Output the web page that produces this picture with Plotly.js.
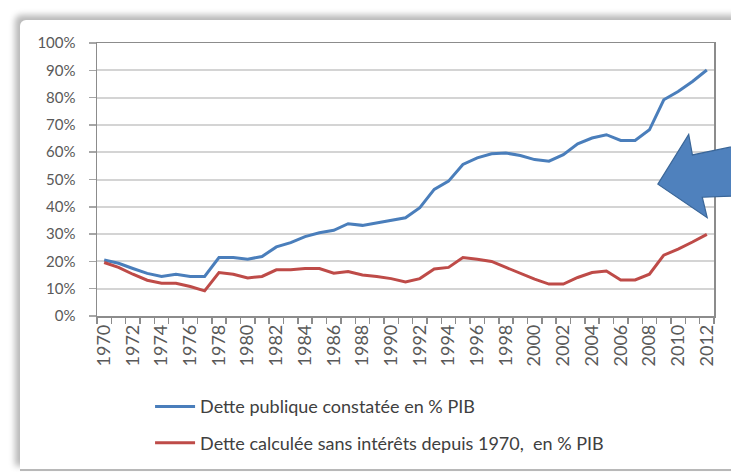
<!DOCTYPE html>
<html>
<head>
<meta charset="utf-8">
<script src="https://cdn.plot.ly/plotly-3.0.1.min.js"></script>
<style>
  html, body { margin: 0; padding: 0; background: #ffffff; }
  #wrap { position: relative; width: 731px; height: 472px; overflow: hidden; background: #ffffff; }
  #frame { position: absolute; left: 20px; top: 20px; width: 760px; height: 449px; background: #ffffff;
           border-bottom: 2px solid #b8b8b8; border-top-left-radius: 6px;
           box-shadow: -5px -5px 6px rgba(0,0,0,0.28); }
  #chart { position: absolute; left: 0; top: 0; width: 731px; height: 472px; }
</style>
</head>
<body>
<div id="wrap">
  <div id="frame"></div>
  <div id="chart"></div>
</div>
<script>
const years = [1970,1971,1972,1973,1974,1975,1976,1977,1978,1979,1980,1981,1982,1983,1984,1985,1986,1987,1988,1989,
               1990,1991,1992,1993,1994,1995,1996,1997,1998,1999,2000,2001,2002,2003,2004,2005,2006,2007,2008,2009,
               2010,2011,2012];
const detteConstatee = [20.5,19.3,17.4,15.6,14.5,15.3,14.5,14.5,21.4,21.4,20.8,21.8,25.3,26.9,29.1,30.5,31.4,33.8,33.2,34.2,
                        35.2,36.0,39.7,46.4,49.4,55.5,57.9,59.4,59.7,58.8,57.3,56.7,59.1,63.1,65.2,66.4,64.3,64.3,68.2,79.2,
                        82.2,85.9,90.1];
const detteSansInterets = [19.6,17.8,15.3,13.1,12.0,12.0,10.8,9.2,15.9,15.3,13.9,14.5,16.9,16.9,17.4,17.4,15.7,16.3,15.0,14.5,
                           13.7,12.5,13.7,17.2,17.8,21.4,20.8,20.0,17.8,15.7,13.5,11.7,11.7,14.1,15.9,16.5,13.2,13.2,15.3,22.3,
                           24.5,27.1,29.9];
const seriesNames = ["Dette publique constatée en % PIB", "Dette calculée sans intérêts depuis 1970,  en % PIB"];
const yTicks = [0,10,20,30,40,50,60,70,80,90,100];
const xLabelYears = years.filter(y => (y - 1970) % 2 === 0);

const traces = [
  { x: years, y: detteConstatee, type: 'scatter', mode: 'lines', name: seriesNames[0], legendgroup: 'a',
    line: { color: '#4a7ebb', width: 3 } },
  { x: years, y: detteSansInterets, type: 'scatter', mode: 'lines', name: seriesNames[1], legendgroup: 'b',
    line: { color: '#be4b48', width: 3 } }
];

const yTickFont = { family: 'Lato, "Open Sans", sans-serif', size: 15, color: '#595959' };
const xTickFont = { family: 'Lato, "Open Sans", sans-serif', size: 18, color: '#595959' };

const layout = {
  width: 731, height: 472,
  margin: { l: 97, r: 17, t: 43, b: 155 },
  paper_bgcolor: 'rgba(0,0,0,0)',
  plot_bgcolor: '#ffffff',
  showlegend: true,
  legend: {
    x: 0.086, xanchor: 'left', y: -0.26, yanchor: 'top',
    orientation: 'v', tracegroupgap: 10, itemwidth: 40,
    font: { family: 'Lato, "Open Sans", sans-serif', size: 18, color: '#404040' },
    bgcolor: 'rgba(0,0,0,0)'
  },
  xaxis: {
    type: 'linear', range: [1969.5, 2012.5],
    tickmode: 'array', tickvals: xLabelYears, ticktext: xLabelYears.map(String),
    tickangle: -90, ticks: '', tickfont: xTickFont,
    showgrid: false, zeroline: false,
    showline: true, linecolor: '#8c8c8c', linewidth: 1.5, mirror: true,
    minor: { tick0: 1969.5, dtick: 1, ticks: 'outside', ticklen: 6, tickcolor: '#8c8c8c', tickwidth: 1.5, showgrid: false }
  },
  yaxis: {
    range: [0, 100], tickmode: 'array', tickvals: yTicks, ticktext: yTicks.map(v => v + '%'),
    ticks: 'outside', ticklen: 7, tickcolor: '#a6a6a6', tickwidth: 1.5, ticklabelstandoff: 10,
    tickfont: yTickFont,
    showgrid: true, gridcolor: '#d4d4d4', gridwidth: 2, zeroline: false,
    showline: true, linecolor: '#8c8c8c', linewidth: 1.5, mirror: true
  },
  shapes: [
    { type: 'path', xref: 'paper', yref: 'paper', layer: 'above',
      path: 'M 0.9090,0.4830 L 0.9590,0.6650 L 0.9650,0.5900 L 1.0400,0.6250 L 1.0400,0.4400 L 0.9810,0.4350 L 0.9890,0.3600 Z',
      fillcolor: '#4f81bd', line: { color: '#3a6698', width: 1.2 } }
  ]
};

Plotly.newPlot('chart', traces, layout, { staticPlot: true, displayModeBar: false });
</script>
</body>
</html>
